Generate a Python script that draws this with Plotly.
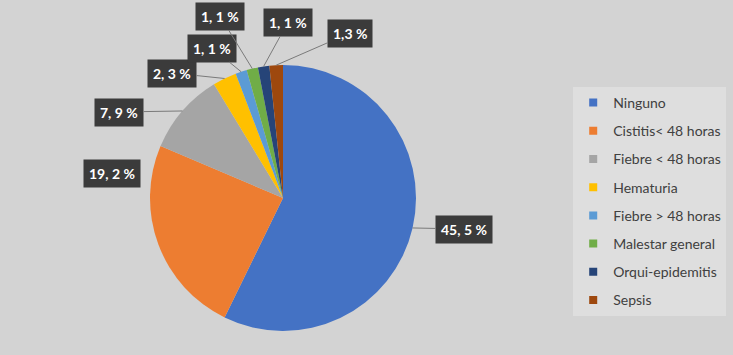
import math
import plotly.graph_objects as go

# ---- data ----
categories = ["Ninguno", "Cistitis< 48 horas", "Fiebre < 48 horas", "Hematuria",
              "Fiebre > 48 horas", "Malestar general", "Orqui-epidemitis", "Sepsis"]
values = [45.5, 19.2, 7.9, 2.3, 1.1, 1.1, 1.1, 1.3]
value_labels = ["45, 5 %", "19, 2 %", "7, 9 %", "2, 3 %", "1, 1 %", "1, 1 %", "1, 1 %", "1,3 %"]

# ---- styles / layout ----
colors = ["#4472C4", "#ED7D31", "#A5A5A5", "#FFC000", "#5B9BD5", "#70AD47", "#264478", "#9E480E"]
W, H = 733, 355
CX, CY, R = 283, 198, 133          # pie centre / radius in pixels
label_boxes = [(464, 229), (112, 173), (119, 112), (172, 73),
               (212, 48), (220, 16), (288, 22), (350, 33)]
show_leader = [True, False, True, True, True, True, True, True]
FONT = "Lato, Open Sans, sans-serif"

fig = go.Figure()
fig.add_trace(go.Pie(
    labels=categories, values=values, sort=False, direction="clockwise", rotation=0,
    marker=dict(colors=colors, line=dict(width=0)),
    textinfo="none", showlegend=False, hoverinfo="label+value",
    domain=dict(x=[(CX - R) / W, (CX + R) / W], y=[(H - CY - R) / H, (H - CY + R) / H]),
))

# legend entries (one group per category so spacing can be set)
for i, (cat, col) in enumerate(zip(categories, colors)):
    fig.add_trace(go.Scatter(
        x=[None], y=[None], mode="markers", name=cat, legendgroup=f"g{i}",
        marker=dict(symbol="square", size=8, color=col), showlegend=True,
    ))

# data labels with leader lines, tips computed from slice angles
total = sum(values)
cum = 0.0
annotations = []
for i, v in enumerate(values):
    mid = 2 * math.pi * (cum + v / 2) / total
    cum += v
    tx = CX + R * math.sin(mid)
    ty = CY - R * math.cos(mid)
    lx, ly = label_boxes[i]
    annotations.append(dict(
        x=tx / W, y=1 - ty / H, xref="paper", yref="paper",
        text=f"<b>{value_labels[i]}</b>", showarrow=True,
        ax=lx - tx, ay=ly - ty, arrowhead=0, arrowwidth=1, standoff=0,
        arrowcolor="#7a7a7a" if show_leader[i] else "rgba(0,0,0,0)",
        bgcolor="#3b3b3b", borderpad=5,
        font=dict(family=FONT, size=14, color="white"),
    ))

fig.update_layout(
    width=W, height=H, autosize=False,
    margin=dict(l=0, r=0, t=0, b=0),
    paper_bgcolor="#d3d3d3", plot_bgcolor="rgba(0,0,0,0)",
    xaxis=dict(visible=False), yaxis=dict(visible=False),
    annotations=annotations,
    legend=dict(
        x=0.782, y=0.755, xanchor="left", yanchor="top",
        bgcolor="#dedede", tracegroupgap=7,
        font=dict(family=FONT, size=14, color="#404040"),
        itemwidth=30,
    ),
    font=dict(family=FONT),
)

fig.write_html("out.html", config={"displayModeBar": False},
               post_script="document.body.style.margin='0';document.body.style.overflow='hidden';")
